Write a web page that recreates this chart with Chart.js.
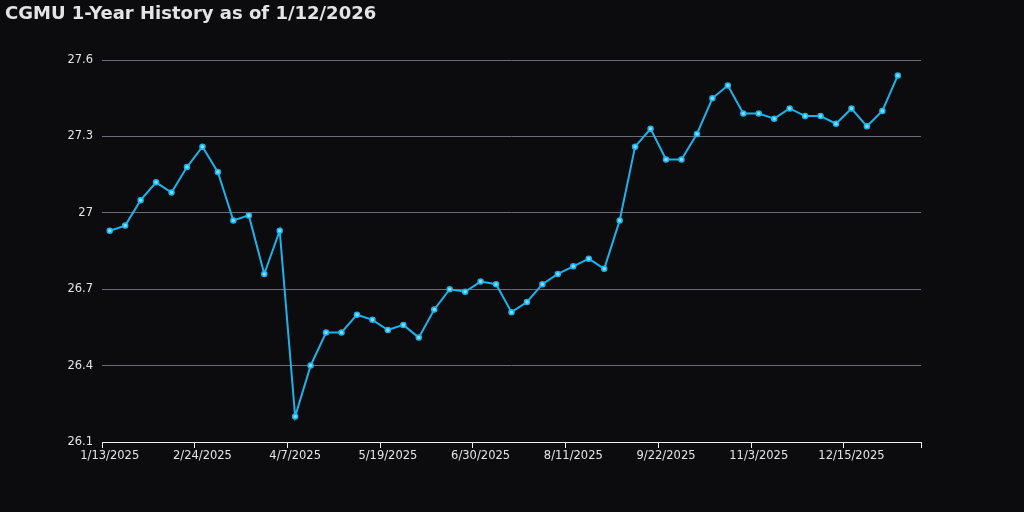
<!DOCTYPE html>
<html>
<head>
<meta charset="utf-8">
<script src="https://cdn.jsdelivr.net/npm/chart.js@4"></script>
<style>
  html, body { margin: 0; padding: 0; background: #0c0b0d; }
  #wrap { width: 1024px; height: 512px; }
</style>
</head>
<body>
<div id="wrap"><canvas id="historyChart" width="1024" height="512"></canvas></div>
<script>
// weekly closes, 1/13/2025 .. 1/5/2026 (last slot 1/12/2026 is empty)
const weeks = [
  '1/13/2025','1/20/2025','1/27/2025','2/3/2025','2/10/2025','2/17/2025',
  '2/24/2025','3/3/2025','3/10/2025','3/17/2025','3/24/2025','3/31/2025',
  '4/7/2025','4/14/2025','4/21/2025','4/28/2025','5/5/2025','5/12/2025',
  '5/19/2025','5/26/2025','6/2/2025','6/9/2025','6/16/2025','6/23/2025',
  '6/30/2025','7/7/2025','7/14/2025','7/21/2025','7/28/2025','8/4/2025',
  '8/11/2025','8/18/2025','8/25/2025','9/1/2025','9/8/2025','9/15/2025',
  '9/22/2025','9/29/2025','10/6/2025','10/13/2025','10/20/2025','10/27/2025',
  '11/3/2025','11/10/2025','11/17/2025','11/24/2025','12/1/2025','12/8/2025',
  '12/15/2025','12/22/2025','12/29/2025','1/5/2026','1/12/2026'
];

const closes = [
  26.93, 26.95, 27.05, 27.12, 27.08, 27.18, 27.26, 27.16, 26.97, 26.99,
  26.76, 26.93, 26.20, 26.40, 26.53, 26.53, 26.60, 26.58, 26.54, 26.56,
  26.51, 26.62, 26.70, 26.69, 26.73, 26.72, 26.61, 26.65, 26.72, 26.76,
  26.79, 26.82, 26.78, 26.97, 27.26, 27.33, 27.21, 27.21, 27.31, 27.45,
  27.50, 27.39, 27.39, 27.37, 27.41, 27.38, 27.38, 27.35, 27.41, 27.34,
  27.40, 27.54, null
];

const yTicks = [26.1, 26.4, 26.7, 27, 27.3, 27.6];
const labelEvery = 6;

const textColor = '#e4e4e8';
const fontFamily = '"DejaVu Sans", sans-serif';

const ctx = document.getElementById('historyChart').getContext('2d');
new Chart(ctx, {
  type: 'line',
  data: {
    labels: weeks,
    datasets: [{
      label: 'CGMU',
      data: closes,
      borderColor: '#1db3ea',
      backgroundColor: '#6cd6f7',
      borderWidth: 2,
      pointRadius: 2.5,
      pointBorderWidth: 1.5,
      pointBorderColor: '#1db3ea',
      pointBackgroundColor: '#7fdcf8',
      tension: 0
    }]
  },
  options: {
    responsive: false,
    animation: false,
    layout: {
      padding: { left: 5, right: 103, top: 4, bottom: 40 }
    },
    plugins: {
      legend: { display: false },
      tooltip: { enabled: false },
      title: {
        display: true,
        text: 'CGMU 1-Year History as of 1/12/2026',
        align: 'start',
        color: textColor,
        font: { family: fontFamily, size: 18, weight: 'bold' },
        padding: { top: 0, bottom: 34.5 }
      }
    },
    scales: {
      x: {
        type: 'category',
        offset: true,
        afterFit: (scale) => { scale.height = 30; },
        border: { display: true, color: '#f0f0f0', width: 1 },
        grid: {
          offset: true,
          drawOnChartArea: false,
          drawTicks: true,
          tickLength: 6,
          tickWidth: 1,
          tickColor: (c) => (c.index === undefined || c.index % labelEvery === 0) ? '#f0f0f0' : 'rgba(0,0,0,0)'
        },
        ticks: {
          autoSkip: false,
          maxRotation: 0,
          color: textColor,
          padding: 1,
          font: { family: fontFamily, size: 11.5 },
          callback: function (val, i) {
            return i % labelEvery === 0 ? this.getLabelForValue(val) : '';
          }
        }
      },
      y: {
        min: 26.1,
        max: 27.6,
        afterFit: (scale) => { scale.width = 97; },
        afterBuildTicks: (scale) => { scale.ticks = yTicks.map(v => ({ value: v })); },
        border: { display: false },
        grid: {
          color: '#6b6c78',
          lineWidth: 1,
          drawTicks: false
        },
        ticks: {
          color: textColor,
          padding: 9,
          font: { family: fontFamily, size: 11.5 },
          callback: (v) => String(Math.round(v * 10) / 10)
        }
      }
    }
  }
});
</script>
</body>
</html>
